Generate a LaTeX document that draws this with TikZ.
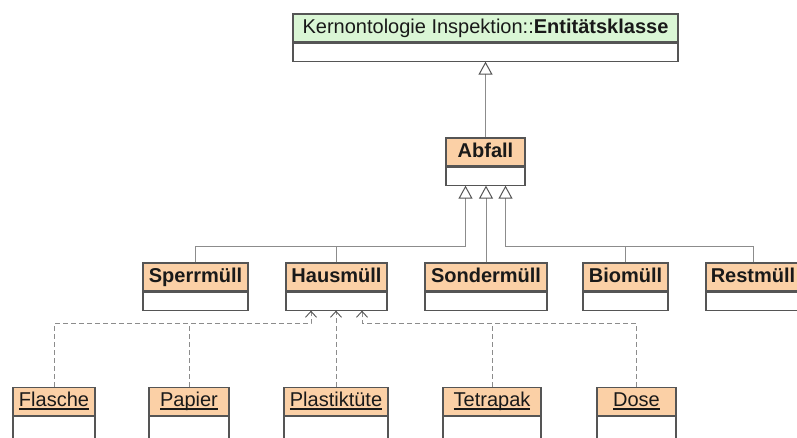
\documentclass[tikz,border=0pt]{standalone}
\usepackage{fontspec}
\setmainfont{Liberation Sans}
\usetikzlibrary{arrows.meta,calc}

\definecolor{kopfgelb}{HTML}{FBD0A6}
\definecolor{kopfgruen}{HTML}{DAF6D5}
\definecolor{rand}{HTML}{555555}
\definecolor{linie}{HTML}{8C8C8C}

% UML class: header node (name) plus empty attribute compartment (name-r)
\newcommand\klasse[6][]{%
  \node[kopf,minimum width=#5] (#2) at (#3,#4) {#6};
  \node[rumpf,minimum width=#5,#1] (#2-r) at (#2.south) {};}

% underline at a fixed distance below the baseline (instance names)
\newcommand\unterstr[1]{\sbox0{#1}\rlap{\usebox0}\rule[-3pt]{\wd0}{1.3pt}}

\begin{document}
\begin{tikzpicture}[x=1pt,y=-1pt,
  kopf/.style={draw=rand, line width=1.1pt, fill=kopfgelb, minimum height=28pt,
    inner sep=0pt, text height=14.5pt, text depth=4pt,
    font=\fontsize{20}{22}\selectfont, text=black!90},
  rumpf/.style={draw=rand, line width=1.1pt, fill=white, minimum height=18pt,
    inner sep=0pt, anchor=north},
  verb/.style={draw=linie, line width=1pt},
  gen/.style={verb, -{Triangle[open, length=13pt, width=14pt, color=rand, line width=1pt]}},
  abh/.style={draw=linie, line width=1pt, dash pattern=on 5pt off 3pt},
  abhpfeil/.style={abh, -{Straight Barb[length=6pt, width=11pt, color=rand, line width=0.9pt]}}]

\clip (0,0) rectangle (797,437);
\fill[white] (0,0) rectangle (797,437);

% core ontology class
\node[kopf, fill=kopfgruen, minimum width=385pt] (kern) at (485.5,28)
  {Kernontologie Inspektion::\textbf{Entitätsklasse}};
\node[rumpf, minimum width=385pt] (kern-r) at (kern.south) {};

% waste classes
\klasse{abfall}{485.5}{152}{79pt}{\textbf{Abfall}}
\klasse{sperr}{195.5}{277}{105pt}{\textbf{Sperrmüll}}
\klasse{haus}{336.5}{277}{101pt}{\textbf{Hausmüll}}
\klasse{sonder}{486}{277}{122pt}{\textbf{Sondermüll}}
\klasse{bio}{625.5}{277}{85pt}{\textbf{Biomüll}}
\klasse{rest}{753}{277}{94pt}{\textbf{Restmüll}}

% instances of household waste
\klasse[minimum height=40pt]{flasche}{54}{401.5}{82pt}{\unterstr{Flasche}}
\klasse[minimum height=40pt]{papier}{189}{401.5}{80pt}{\unterstr{Papier}}
\klasse[minimum height=40pt]{plastik}{336}{401.5}{104pt}{\unterstr{Plastiktüte}}
\klasse[minimum height=40pt]{tetra}{492}{401.5}{98pt}{\unterstr{Tetrapak}}
\klasse[minimum height=40pt]{dose}{636.5}{401.5}{79pt}{\unterstr{Dose}}

% generalisations
\draw[gen] (abfall.north) -- (kern-r.south);
\coordinate (g-l) at ($(abfall-r.south)+(-20,0)$);
\coordinate (g-r) at ($(abfall-r.south)+(20,0)$);
\draw[gen] (sperr.north) -- ++(0,-16) -| (g-l);
\draw[verb] (haus.north) -- ++(0,-16);
\draw[gen] (sonder.north) -- (sonder.north |- abfall-r.south);
\draw[gen] (rest.north) -- ++(0,-16) -| (g-r);
\draw[verb] (bio.north) -- ++(0,-16);

% instance-of dependencies
\coordinate (d-l) at ($(haus-r.south)+(-25.5,0)$);
\coordinate (d-r) at ($(haus-r.south)+(25.5,0)$);
\draw[abhpfeil] (flasche.north) -- ++(0,-63) -| (d-l);
\draw[abh] (papier.north) -- ++(0,-63);
\draw[abhpfeil] (plastik.north) -- (plastik.north |- haus-r.south);
\draw[abhpfeil] (dose.north) -- ++(0,-63) -| (d-r);
\draw[abh] (tetra.north) -- ++(0,-63);
\end{tikzpicture}
\end{document}
